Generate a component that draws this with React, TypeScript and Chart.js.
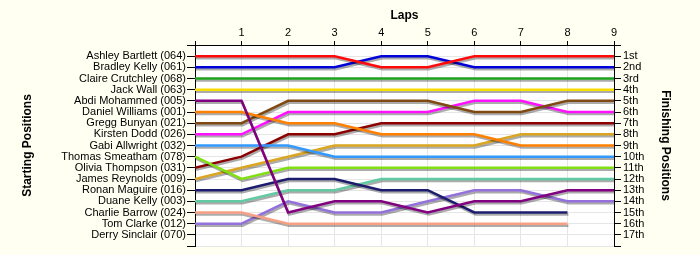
import React, { useEffect, useRef } from 'react';
import { Chart, registerables } from 'chart.js';

Chart.register(...registerables);

const laps = [0, 1, 2, 3, 4, 5, 6, 7, 8, 9];
const lapLabels = ['', '1', '2', '3', '4', '5', '6', '7', '8', '9'];

const startingLabels = [
  'Ashley Bartlett (064)',
  'Bradley Kelly (061)',
  'Claire Crutchley (068)',
  'Jack Wall (063)',
  'Abdi Mohammed (005)',
  'Daniel Williams (001)',
  'Gregg Bunyan (021)',
  'Kirsten Dodd (026)',
  'Gabi Allwright (032)',
  'Thomas Smeatham (078)',
  'Olivia Thompson (031)',
  'James Reynolds (009)',
  'Ronan Maguire (016)',
  'Duane Kelly (003)',
  'Charlie Barrow (024)',
  'Tom Clarke (012)',
  'Derry Sinclair (070)',
];

const finishingLabels = [
  '1st', '2nd', '3rd', '4th', '5th', '6th', '7th', '8th', '9th',
  '10th', '11th', '12th', '13th', '14th', '15th', '16th', '17th',
];

const ashley = [1, 1, 1, 1, 2, 2, 1, 1, 1, 1];
const bradley = [2, 2, 2, 2, 1, 1, 2, 2, 2, 2];
const claire = [3, 3, 3, 3, 3, 3, 3, 3, 3, 3];
const jack = [4, 4, 4, 4, 4, 4, 4, 4, 4, 4];
const abdi = [5, 5, 15, 14, 14, 15, 14, 14, 13, 13];
const daniel = [6, 6, 7, 7, 8, 8, 8, 9, 9, 9];
const gregg = [7, 7, 5, 5, 5, 5, 6, 6, 5, 5];
const kirsten = [8, 8, 6, 6, 6, 6, 5, 5, 6, 6];
const gabi = [9, 9, 9, 10, 10, 10, 10, 10, 10, 10];
const thomas = [10, 12, 11, 11, 11, 11, 11, 11, 11, 11];
const olivia = [11, 10, 8, 8, 7, 7, 7, 7, 7, 7];
const james = [12, 11, 10, 9, 9, 9, 9, 8, 8, 8];
const ronan = [13, 13, 12, 12, 13, 13, 15, 15, 15, null];
const duane = [14, 14, 13, 13, 12, 12, 12, 12, 12, 12];
const charlie = [15, 15, 16, 16, 16, 16, 16, 16, 16, null];
const tom = [16, 16, 14, 15, 15, 14, 13, 13, 14, 14];

const seriesList = [
  { name: 'Ashley Bartlett', values: ashley, color: '#ff0a0a' },
  { name: 'Bradley Kelly', values: bradley, color: '#0000d8' },
  { name: 'Claire Crutchley', values: claire, color: '#1fa31f' },
  { name: 'Jack Wall', values: jack, color: '#f8de00' },
  { name: 'Abdi Mohammed', values: abdi, color: '#800080' },
  { name: 'Daniel Williams', values: daniel, color: '#ff8000' },
  { name: 'Gregg Bunyan', values: gregg, color: '#7f4a12' },
  { name: 'Kirsten Dodd', values: kirsten, color: '#ff10ff' },
  { name: 'Gabi Allwright', values: gabi, color: '#3399ff' },
  { name: 'Thomas Smeatham', values: thomas, color: '#80e010' },
  { name: 'Olivia Thompson', values: olivia, color: '#8b0000' },
  { name: 'James Reynolds', values: james, color: '#daa520' },
  { name: 'Ronan Maguire', values: ronan, color: '#1c1c6e' },
  { name: 'Duane Kelly', values: duane, color: '#62caa2' },
  { name: 'Charlie Barrow', values: charlie, color: '#f8a084' },
  { name: 'Tom Clarke', values: tom, color: '#9370db' },
];

const FONT = "'Liberation Sans', Arial, sans-serif";

export default function App() {
  const ref = useRef<HTMLCanvasElement | null>(null);

  useEffect(() => {
    document.body.style.margin = '0';
    document.body.style.background = '#fffff2';
    const canvas = ref.current;
    if (!canvas) return;

    const plotBg = {
      id: 'plotBg',
      beforeDraw(chart: any) {
        const { ctx, chartArea } = chart;
        ctx.save();
        ctx.fillStyle = '#ffffff';
        ctx.fillRect(chartArea.left, chartArea.top, chartArea.right - chartArea.left, chartArea.bottom - chartArea.top);
        ctx.restore();
      },
    };

    const shadow = {
      id: 'lineShadow',
      beforeDatasetsDraw(chart: any) {
        const ctx = chart.ctx;
        ctx.save();
        ctx.shadowColor = 'rgba(0,0,0,0.33)';
        ctx.shadowOffsetX = 1;
        ctx.shadowOffsetY = 2;
        ctx.shadowBlur = 0;
      },
      afterDatasetsDraw(chart: any) {
        chart.ctx.restore();
      },
    };

    const chart = new Chart(canvas, {
      type: 'line',
      data: {
        datasets: seriesList.map((s) => ({
          label: s.name,
          data: laps.map((lap, i) => ({ x: lap, y: s.values[i] })),
          borderColor: s.color,
          backgroundColor: s.color,
          borderWidth: 2.5,
          pointRadius: 0,
          tension: 0,
          spanGaps: false,
          xAxisID: 'x',
          yAxisID: 'y',
        })),
      },
      options: {
        responsive: false,
        animation: false,
        devicePixelRatio: 1,
        layout: { padding: { left: 0, right: 0, top: 0, bottom: 9 } },
        plugins: {
          legend: { display: false },
          tooltip: { enabled: false },
        },
        scales: {
          x: {
            type: 'linear',
            position: 'top',
            min: 0,
            max: 9,
            afterFit: (scale: any) => { scale.height = 45; },
            afterBuildTicks: (scale: any) => { scale.ticks = laps.map((v) => ({ value: v })); },
            ticks: {
              callback: (v: any) => lapLabels[Number(v)] ?? '',
              color: '#000',
              font: { family: FONT, size: 11 },
              padding: 1,
              maxRotation: 0,
              autoSkip: false,
            },
            grid: { color: '#e6e6e6', tickColor: '#000', tickLength: 4, lineWidth: 1 },
            border: { color: '#000', width: 1 },
            title: {
              display: true,
              text: 'Laps',
              color: '#000',
              font: { family: FONT, size: 12, weight: 'bold' },
              padding: { top: 8, bottom: 0 },
            },
          },
          y: {
            type: 'linear',
            position: 'left',
            reverse: true,
            min: 0,
            max: 18,
            afterFit: (scale: any) => { scale.width = 195; },
            afterBuildTicks: (scale: any) => {
              scale.ticks = Array.from({ length: 19 }, (_, i) => ({ value: i }));
            },
            ticks: {
              callback: (v: any) => startingLabels[Number(v) - 1] ?? '',
              color: '#000',
              font: { family: FONT, size: 11 },
              padding: 1,
              autoSkip: false,
            },
            grid: { color: '#e6e6e6', tickColor: '#000', tickLength: 8, lineWidth: 1 },
            border: { color: '#000', width: 1 },
            title: {
              display: true,
              text: 'Starting Positions',
              color: '#000',
              font: { family: FONT, size: 12, weight: 'bold' },
              padding: { top: 20, bottom: 0 },
            },
          },
          y2: {
            type: 'linear',
            position: 'right',
            reverse: true,
            min: 0,
            max: 18,
            afterFit: (scale: any) => { scale.width = 86; },
            afterBuildTicks: (scale: any) => {
              scale.ticks = Array.from({ length: 19 }, (_, i) => ({ value: i }));
            },
            ticks: {
              callback: (v: any) => finishingLabels[Number(v) - 1] ?? '',
              color: '#000',
              font: { family: FONT, size: 11 },
              padding: 2,
              autoSkip: false,
            },
            grid: { drawOnChartArea: false, tickColor: '#000', tickLength: 7, lineWidth: 1 },
            border: { color: '#000', width: 1 },
            title: {
              display: true,
              text: 'Finishing Positions',
              color: '#000',
              font: { family: FONT, size: 12, weight: 'bold' },
              padding: { top: 27, bottom: 0 },
            },
          },
        },
      },
      plugins: [plotBg, shadow],
    } as any);

    return () => chart.destroy();
  }, []);

  return (
    <div style={{ position: 'fixed', left: 0, top: 0, width: 700, height: 255, background: '#fffff2' }}>
      <canvas ref={ref} width={700} height={255} style={{ display: 'block', width: 700, height: 255 }} />
    </div>
  );
}
